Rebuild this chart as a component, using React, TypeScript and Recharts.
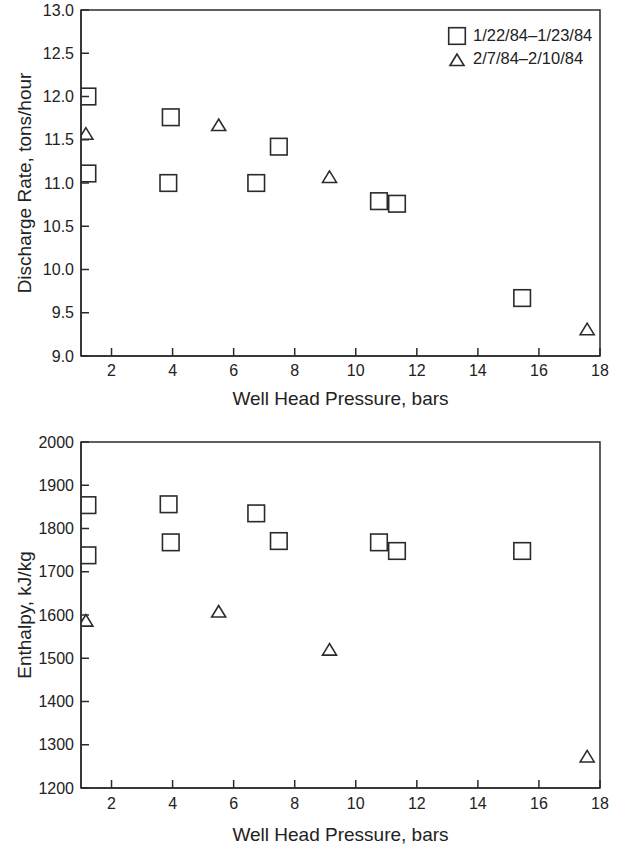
import { ScatterChart, Scatter, XAxis, YAxis, ReferenceArea, Legend } from 'recharts';

// pressures (bars) for the two sampling periods
const JAN_PRESSURE = [1.21, 1.21, 3.94, 3.86, 6.74, 7.48, 10.76, 11.35, 15.45];
const JAN_PRESSURE_H = [1.21, 1.21, 3.87, 3.94, 6.74, 7.48, 10.76, 11.35, 15.45];
const FEB_PRESSURE = [1.16, 5.51, 9.14, 17.58];

// discharge rate, tons/hour
const JAN_DISCHARGE = [12.0, 11.11, 11.76, 11.0, 11.0, 11.42, 10.79, 10.76, 9.67];
const FEB_DISCHARGE = [11.57, 11.67, 11.07, 9.31];

// enthalpy, kJ/kg
const JAN_ENTHALPY = [1854, 1738, 1856, 1768, 1835, 1771, 1768, 1748, 1748];
const FEB_ENTHALPY = [1587, 1608, 1520, 1273];

const SERIES_JAN = '1/22/84\u20131/23/84';
const SERIES_FEB = '2/7/84\u20132/10/84';

const X_TICKS = [2, 4, 6, 8, 10, 12, 14, 16, 18];
const DISCHARGE_TICKS = [9, 9.5, 10, 10.5, 11, 11.5, 12, 12.5, 13];
const ENTHALPY_TICKS = [1200, 1300, 1400, 1500, 1600, 1700, 1800, 1900, 2000];

const zip = (xs: number[], ys: number[]) => xs.map((x, i) => ({ x, y: ys[i] }));

const INK = '#2b2b2b';
const FONT = '"Liberation Sans", Arial, sans-serif';
const tickStyle = { fill: '#222', fontSize: 16, fontFamily: FONT };
const labelStyle = { fill: '#222', fontSize: 19, fontFamily: FONT };

// eslint-disable-next-line @typescript-eslint/no-explicit-any
const SquareMark = ({ cx, cy }: any) => (
  <rect x={cx - 8.3} y={cy - 8.3} width={16.6} height={16.6} fill="none" stroke={INK} strokeWidth={1.6} />
);

// eslint-disable-next-line @typescript-eslint/no-explicit-any
const TriangleMark = ({ cx, cy }: any) => (
  <polygon
    points={`${cx},${cy - 6} ${cx - 7},${cy + 5.5} ${cx + 7},${cy + 5.5}`}
    fill="none"
    stroke={INK}
    strokeWidth={1.6}
  />
);

const LegendBox = () => (
  <div style={{ fontFamily: FONT, fontSize: 16.5, color: '#222' }}>
    {[SERIES_JAN, SERIES_FEB].map((name, i) => (
      <div key={name} style={{ display: 'flex', alignItems: 'center', height: 23 }}>
        <svg width={22} height={22} style={{ marginRight: 5 }}>
          {i === 0 ? <SquareMark cx={11} cy={11} /> : <TriangleMark cx={11} cy={12} />}
        </svg>
        <span>{name}</span>
      </div>
    ))}
  </div>
);

type PanelProps = {
  height: number;
  top: number;
  bottom: number;
  jan: { x: number; y: number }[];
  feb: { x: number; y: number }[];
  yDomain: [number, number];
  yTicks: number[];
  yLabel: string;
  yFormat?: (v: number) => string;
  xTickMargin: number;
  labelOffset: number;
  showLegend?: boolean;
};

function Panel({ height, top, bottom, jan, feb, yDomain, yTicks, yLabel, yFormat, xTickMargin, labelOffset, showLegend }: PanelProps) {
  return (
    <ScatterChart width={618} height={height} margin={{ top, right: 18, left: 21, bottom }}>
      <XAxis
        type="number"
        dataKey="x"
        domain={[1, 18]}
        ticks={X_TICKS}
        allowDataOverflow
        height={50}
        tickSize={-8}
        tickMargin={xTickMargin}
        tick={tickStyle}
        stroke={INK}
        strokeWidth={1.5}
        label={{ value: 'Well Head Pressure, bars', position: 'insideBottom', offset: labelOffset, style: labelStyle }}
      />
      <YAxis
        type="number"
        dataKey="y"
        domain={yDomain}
        ticks={yTicks}
        allowDataOverflow
        width={60}
        tickSize={-8}
        tickMargin={15}
        tick={tickStyle}
        tickFormatter={yFormat}
        stroke={INK}
        strokeWidth={1.5}
        label={{
          value: yLabel,
          angle: -90,
          position: 'insideLeft',
          offset: 3,
          style: { ...labelStyle, textAnchor: 'middle' },
        }}
      />
      <ReferenceArea x1={1} x2={18} y1={yDomain[0]} y2={yDomain[1]} fill="none" stroke={INK} strokeWidth={1.5} />
      {showLegend && (
        <Legend
          layout="vertical"
          verticalAlign="middle"
          align="center"
          wrapperStyle={{ top: 24, left: 446, width: 170 }}
          content={<LegendBox />}
        />
      )}
      <Scatter name={SERIES_JAN} data={jan} shape={<SquareMark />} isAnimationActive={false} />
      <Scatter name={SERIES_FEB} data={feb} shape={<TriangleMark />} isAnimationActive={false} />
    </ScatterChart>
  );
}

export default function App() {
  return (
    <div style={{ position: 'absolute', top: 0, left: 0, width: 618, height: 845, background: '#fff' }}>
      <Panel
        height={420}
        top={10}
        bottom={14}
        jan={zip(JAN_PRESSURE, JAN_DISCHARGE)}
        feb={zip(FEB_PRESSURE, FEB_DISCHARGE)}
        yDomain={[9, 13]}
        yTicks={DISCHARGE_TICKS}
        yLabel="Discharge Rate, tons/hour"
        yFormat={(v: number) => v.toFixed(1)}
        xTickMargin={17}
        labelOffset={1}
        showLegend
      />
      <Panel
        height={425}
        top={22}
        bottom={7}
        jan={zip(JAN_PRESSURE_H, JAN_ENTHALPY)}
        feb={zip(FEB_PRESSURE, FEB_ENTHALPY)}
        yDomain={[1200, 2000]}
        yTicks={ENTHALPY_TICKS}
        yLabel="Enthalpy, kJ/kg"
        xTickMargin={18}
        labelOffset={-3}
      />
    </div>
  );
}
